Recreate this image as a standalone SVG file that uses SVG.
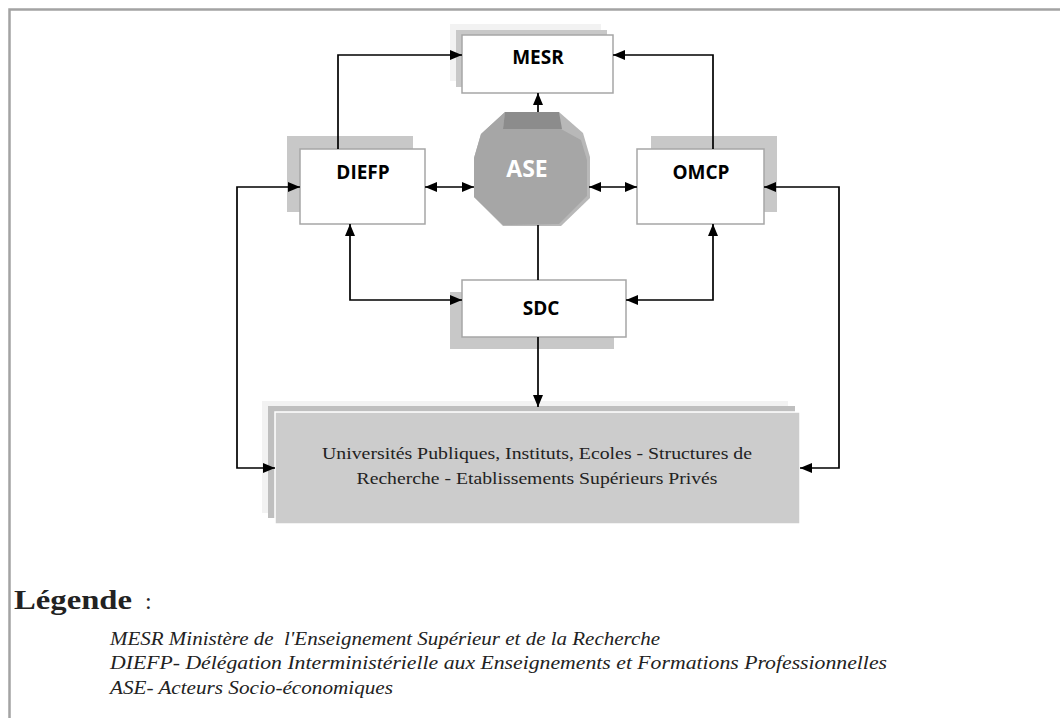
<svg xmlns="http://www.w3.org/2000/svg" width="1060" height="718" viewBox="0 0 1060 718">
<defs>
<marker id="ah" viewBox="0 0 12 10" refX="12" refY="5" markerWidth="12" markerHeight="10" markerUnits="userSpaceOnUse" orient="auto-start-reverse">
<path d="M0,0 L12,5 L0,10 Z" fill="#000"/>
</marker>
<style>
.box{fill:#fff;stroke:#a6a6a6;stroke-width:1.5}
.sh{fill:#c8c8c8}
.shl{fill:#f2f2f2}
.lbl{font-family:"Open Sans","Noto Sans",sans-serif;font-weight:bold;font-size:19px;fill:#000;text-anchor:middle}
.con{fill:none;stroke:#000;stroke-width:1.7}
.ser{font-family:"Liberation Serif","DejaVu Serif",serif;fill:#222}
.leg{font-family:"Liberation Serif","DejaVu Serif",serif;font-style:italic;font-size:18px;fill:#222;white-space:pre}
</style>
</defs>
<rect width="1060" height="718" fill="#fff"/>
<path d="M9.5,718 V9.5 H1060" fill="none" stroke="#a3a3a3" stroke-width="2.5"/>

<g id="mesr">
<rect class="shl" x="450" y="24" width="151" height="57"/>
<rect class="sh" x="456" y="30" width="151" height="57"/>
<rect class="box" x="462" y="35" width="151" height="58"/>
<text class="lbl" x="538" y="64">MESR</text>
</g>

<g id="diefp">
<rect class="sh" x="287" y="136" width="126" height="76"/>
<rect class="box" x="300" y="149" width="125" height="75"/>
<text class="lbl" x="363" y="179">DIEFP</text>
</g>

<g id="omcp">
<rect class="sh" x="651" y="136" width="126" height="76"/>
<rect class="box" x="637" y="149" width="127" height="75"/>
<text class="lbl" x="701" y="179">OMCP</text>
</g>

<g id="ase">
<polygon points="505,112 559,112 583,133 590,157 590,198 561,226 503,226 474,197 474,158 481,134" fill="#b8b8b8"/>
<polygon points="503,129 561,129 581,140 587,160 587,196 559,224 503,225 474,197 474,158 481,134 505,112" fill="#a6a6a6"/>
<polygon points="505,112 559,112 562,129 503,129" fill="#8c8c8c"/>
<text x="527" y="177" font-family="'Open Sans','Noto Sans',sans-serif" font-weight="bold" font-size="23" fill="#fff" text-anchor="middle">ASE</text>
</g>

<g id="sdc">
<rect class="sh" x="450" y="292" width="164" height="57"/>
<rect class="box" x="462" y="280" width="164" height="57"/>
<text class="lbl" x="541" y="315">SDC</text>
</g>

<g id="univ">
<rect class="shl" x="262" y="401" width="526" height="112"/>
<rect fill="#bfbfbf" x="268" y="406" width="527" height="112"/>
<rect fill="#cccccc" stroke="#fff" stroke-width="1.5" x="275" y="412" width="525" height="112"/>
<text class="ser" font-size="17" x="537" y="459" text-anchor="middle" textLength="430" lengthAdjust="spacingAndGlyphs">Universités Publiques, Instituts, Ecoles - Structures de</text>
<text class="ser" font-size="17" x="537" y="484" text-anchor="middle" textLength="361" lengthAdjust="spacingAndGlyphs">Recherche - Etablissements Supérieurs Privés</text>
</g>

<g id="connectors">
<path class="con" d="M338,149 V55 H462" marker-end="url(#ah)"/>
<path class="con" d="M713,149 V55 H613" marker-end="url(#ah)"/>
<path class="con" d="M538,112 V93" marker-end="url(#ah)"/>
<path class="con" d="M425,187 H474" marker-start="url(#ah)" marker-end="url(#ah)"/>
<path class="con" d="M589,187 H637" marker-start="url(#ah)" marker-end="url(#ah)"/>
<path class="con" d="M538,225 V280"/>
<path class="con" d="M350,224 V300 H462" marker-start="url(#ah)" marker-end="url(#ah)"/>
<path class="con" d="M713,224 V300 H626" marker-start="url(#ah)" marker-end="url(#ah)"/>
<path class="con" d="M538,337 V407" marker-end="url(#ah)"/>
<path class="con" d="M300,187 H237 V468 H275" marker-start="url(#ah)" marker-end="url(#ah)"/>
<path class="con" d="M764,187 H839 V468 H800" marker-start="url(#ah)" marker-end="url(#ah)"/>
</g>

<g id="legend">
<text class="ser" x="14" y="609" font-size="28" font-weight="bold" fill="#111" textLength="118" lengthAdjust="spacingAndGlyphs">Légende</text>
<text class="ser" x="145" y="609" font-size="24" fill="#111">:</text>
<text class="leg" x="110" y="645" textLength="550" lengthAdjust="spacingAndGlyphs">MESR Ministère de  l'Enseignement Supérieur et de la Recherche</text>
<text class="leg" x="110" y="669" textLength="777" lengthAdjust="spacingAndGlyphs">DIEFP- Délégation Interministérielle aux Enseignements et Formations Professionnelles</text>
<text class="leg" x="110" y="694" textLength="283" lengthAdjust="spacingAndGlyphs">ASE- Acteurs Socio-économiques</text>
</g>
</svg>
